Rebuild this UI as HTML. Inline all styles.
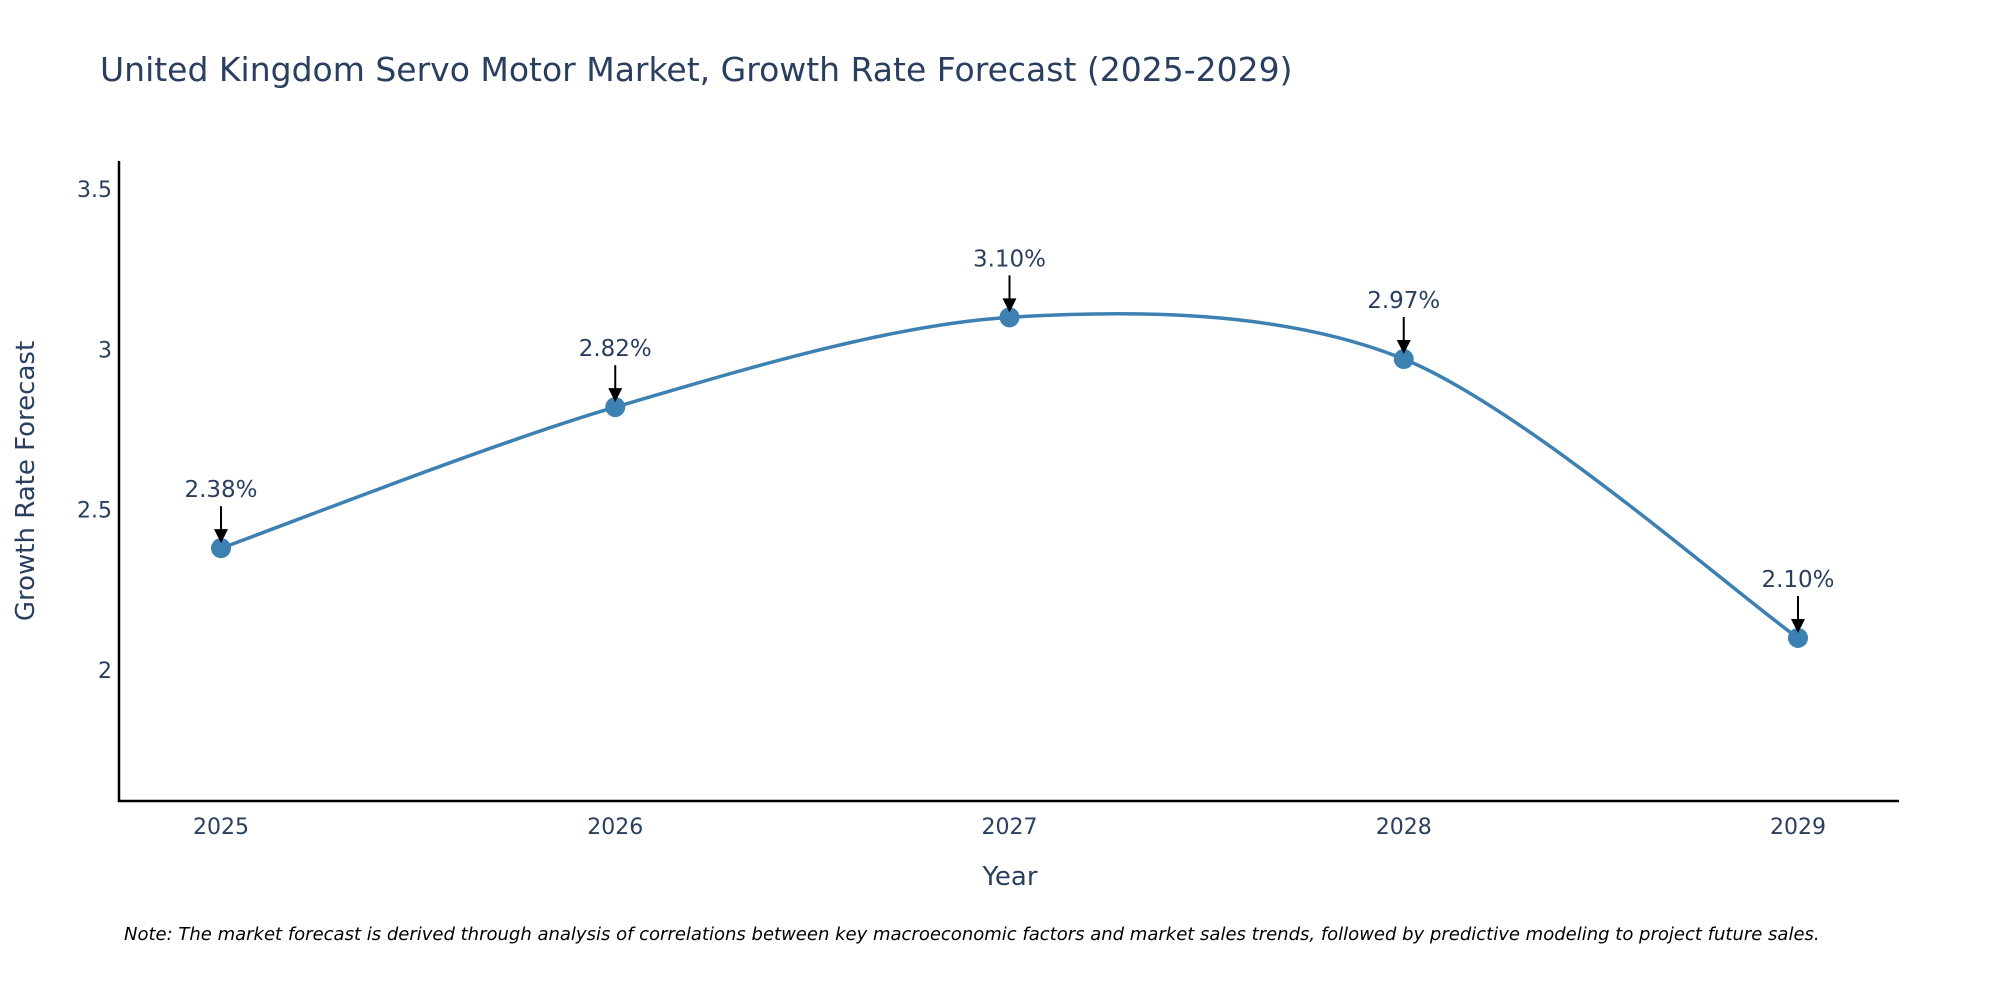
<!DOCTYPE html>
<html><head><meta charset="utf-8"><style>
body{margin:0;background:#fff;}
svg text{font-family:"DejaVu Sans","Liberation Sans",sans-serif;}
</style></head><body>
<svg width="2000" height="1000" viewBox="0 0 2000 1000" xmlns="http://www.w3.org/2000/svg">
<rect width="2000" height="1000" fill="#fff"/>
<text x="100" y="81" font-size="33" fill="#2a3f5f">United Kingdom Servo Motor Market, Growth Rate Forecast (2025-2029)</text>
<g id="yticks"></g>
<g id="xticks"></g>
<path id="line" fill="none" stroke="#3d80b2" stroke-width="3.5"/>
<g id="points"></g>
<g id="annots"></g>
<line x1="119" y1="161" x2="119" y2="802" stroke="#000" stroke-width="2.5"/>
<line x1="118" y1="801" x2="1899" y2="801" stroke="#000" stroke-width="2.5"/>
<text x="1010" y="885" font-size="26" fill="#2a3f5f" text-anchor="middle">Year</text>
<text transform="translate(34,481) rotate(-90)" font-size="26" fill="#2a3f5f" text-anchor="middle">Growth Rate Forecast</text>
<text x="124" y="940" font-size="18" font-style="italic" fill="#000">Note: The market forecast is derived through analysis of correlations between key macroeconomic factors and market sales trends, followed by predictive modeling to project future sales.</text>
</svg>
<script>
const years=[2025,2026,2027,2028,2029];
const values=[2.38,2.82,3.10,2.97,2.10];
const labels=["2.38%","2.82%","3.10%","2.97%","2.10%"];
const yTicks=[2,2.5,3,3.5];
const yTickLabels=["2","2.5","3","3.5"];
const NS="http://www.w3.org/2000/svg";
function xs(v){return 221+(v-2025)*394.25;}
function ys(v){return 670-(v-2)*320.6;}
function mk(tag,attrs,parent){const e=document.createElementNS(NS,tag);for(const k in attrs)e.setAttribute(k,attrs[k]);parent.appendChild(e);return e;}
const yt=document.getElementById('yticks');
yTicks.forEach((t,i)=>{const e=mk('text',{x:112,y:ys(t)+8,'font-size':22,fill:'#2a3f5f','text-anchor':'end'},yt);


e.textContent=yTickLabels[i];});
const xt=document.getElementById('xticks');
years.forEach(y=>{const e=mk('text',{x:xs(y),y:834,'font-size':22,fill:'#2a3f5f','text-anchor':'middle'},xt);


e.textContent=String(y);});
const P=years.map((y,i)=>[xs(y),ys(values[i])]);
let d="M"+P[0][0]+","+P[0][1];
for(let i=0;i<P.length-1;i++){const p0=P[Math.max(0,i-1)],p1=P[i],p2=P[i+1],p3=P[Math.min(P.length-1,i+2)];
const k=6.5;
const c1=[p1[0]+(p2[0]-p0[0])/k,p1[1]+(p2[1]-p0[1])/k],c2=[p2[0]-(p3[0]-p1[0])/k,p2[1]-(p3[1]-p1[1])/k];
d+=" C"+c1+" "+c2+" "+p2;}
document.getElementById('line').setAttribute('d',d);
const pg=document.getElementById('points'),ag=document.getElementById('annots');
P.forEach((p,i)=>{const c=mk('circle',{cx:p[0],cy:p[1],r:10,fill:'#3d80b2'},pg);


const l=mk('line',{x1:p[0],y1:p[1]-42,x2:p[0],y2:p[1]-16,stroke:'#000','stroke-width':2},ag);


const h=mk('path',{d:`M${p[0]-7},${p[1]-19} L${p[0]+7},${p[1]-19} L${p[0]},${p[1]-5} Z`,fill:'#000'},ag);


const t=mk('text',{x:p[0],y:p[1]-51,'font-size':23,fill:'#2a3f5f','text-anchor':'middle'},ag);


t.textContent=labels[i];});
</script>
</body></html>
